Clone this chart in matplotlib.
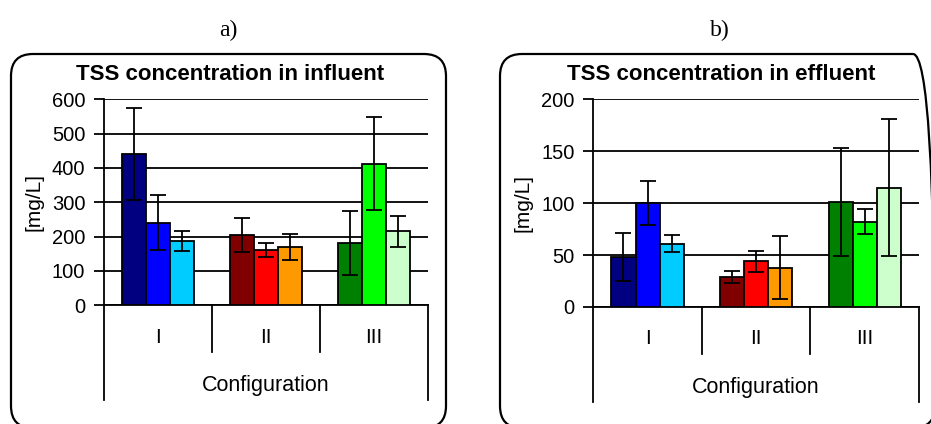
import matplotlib.pyplot as plt
from matplotlib.patches import FancyBboxPatch
import numpy as np

configs = ['I', 'II', 'III']
colors = [['#000080', '#0000FF', '#00CCFF'],
          ['#800000', '#FF0000', '#FF9900'],
          ['#008000', '#00FF00', '#CCFFCC']]

infl_mean = [[442, 240, 187], [204, 162, 170], [181, 413, 215]]
infl_err = [[134, 80, 30], [50, 20, 38], [94, 134, 44]]

effl_mean = [[48, 100, 61], [29, 44, 38], [101, 82, 115]]
effl_err = [[23, 21, 8], [6, 10, 30], [52, 12, 66]]

W, H = 931, 424
fig = plt.figure(figsize=(W / 100, H / 100), dpi=100)
plt.rcParams['font.family'] = 'Liberation Sans'


def px_axes(x0, x1, ytop, ybot):
    return fig.add_axes([x0 / W, 1 - ybot / H, (x1 - x0) / W, (ybot - ytop) / H])


def panel(ax, means, errs, ymax, step, title, ytop, ybot, title_x):
    bw = 0.222
    for i in range(3):
        for j in range(3):
            ax.bar(i + (j - 1) * bw, means[i][j], bw, color=colors[i][j],
                   edgecolor='black', linewidth=1.3, zorder=3,
                   yerr=errs[i][j], capsize=5.5,
                   error_kw=dict(ecolor='black', elinewidth=1.3, capthick=1.3, zorder=4))
    ax.set_xlim(-0.5, 2.5)
    ax.set_ylim(0, ymax)
    ax.set_yticks(np.arange(0, ymax + 1, step))
    ax.yaxis.grid(True, color='black', linewidth=1.3)
    ax.set_axisbelow(True)
    for s in ['top', 'right']:
        ax.spines[s].set_visible(False)
    ax.spines['left'].set_linewidth(1.3)
    ax.spines['bottom'].set_linewidth(1.3)
    ax.tick_params(axis='y', direction='out', length=7, width=1.3, labelsize=14.5, pad=6.5)
    ax.set_xticks([])
    ax.set_ylabel('[mg/L]', fontsize=15, labelpad=6)
    hpx = ybot - ytop
    tr = ax.get_xaxis_transform()
    for xd in [0.5, 1.5]:
        ax.plot([xd, xd], [0, -47 / hpx], transform=tr, color='black', lw=1.3, clip_on=False)
    for xd in [-0.5, 2.5]:
        ax.plot([xd, xd], [0, -95 / hpx], transform=tr, color='black', lw=1.3, clip_on=False)
    for i, c in enumerate(configs):
        ax.text(i, -32 / hpx, c, transform=tr, ha='center', va='center', fontsize=15)
    ax.text(1, -80 / hpx, 'Configuration', transform=tr, ha='center', va='center', fontsize=15.5)
    ax.text(title_x, 1 + 25 / hpx, title, transform=ax.transAxes, ha='center', va='center',
            fontsize=16, fontweight='bold')


# rounded frames, drawn in pixel coordinates
R = 22
for x0, x1 in [(11, 446), (500, 935)]:
    y0, y1 = 54, 428
    box = FancyBboxPatch((x0 + R, H - (y1 - R)), x1 - x0 - 2 * R, y1 - y0 - 2 * R,
                         boxstyle='round,pad=%d' % R, transform=None,
                         facecolor='none', edgecolor='black', linewidth=1.6)
    fig.add_artist(box)

ax1 = px_axes(104, 428, 99.3, 305.3)
panel(ax1, infl_mean, infl_err, 600, 100, 'TSS concentration in influent', 99.3, 305.3,
      (230 - 104) / (428 - 104))

ax2 = px_axes(593.3, 919, 99.3, 307)
panel(ax2, effl_mean, effl_err, 200, 50, 'TSS concentration in effluent', 99.3, 307,
      (721 - 593.3) / (919 - 593.3))

fig.text(228 / W, 1 - 30 / H, 'a)', family='Liberation Serif', fontsize=17, ha='center', va='center')
fig.text(720 / W, 1 - 30 / H, 'b)', family='Liberation Serif', fontsize=17, ha='center', va='center')

fig.savefig('out.png', dpi=100)
